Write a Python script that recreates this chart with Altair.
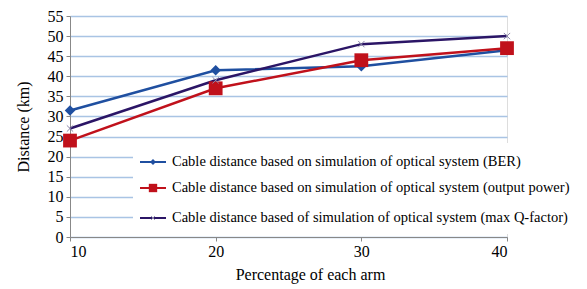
import altair as alt
import pandas as pd

pct = [10, 20, 30, 40]
ber = [31.5, 41.5, 42.5, 46.5]
power = [24.0, 37.0, 44.0, 47.0]
qfactor = [27.0, 39.0, 48.0, 50.0]

names = [
    "Cable distance based on simulation of optical system (BER)",
    "Cable distance based on simulation of optical system (output power)",
    "Cable distance based of simulation of optical system (max Q-factor)",
]
colors = ["#1f4fa0", "#c0111b", "#2b1566"]
y_ticks = list(range(0, 56, 5))

rows = []
for name, vals in zip(names, [ber, power, qfactor]):
    for x, y in zip(pct, vals):
        rows.append({"series": name, "pct": x, "dist": y})
df = pd.DataFrame(rows)

FONT = "Liberation Serif"
XPATH = "M-1,-1L1,1M-1,1L1,-1"

x_scale = alt.Scale(domain=[10, 40], nice=False)
y_scale = alt.Scale(domain=[0, 55], nice=False)

x_axis = alt.Axis(values=pct, title="Percentage of each arm", grid=False,
                  labelFontSize=16, titleFontSize=16, labelFont=FONT, titleFont=FONT,
                  titleFontWeight="normal", labelColor="black", titleColor="black",
                  domainColor="#888888", tickColor="#888888", tickSize=4,
                  labelPadding=2, titlePadding=7, titleX=240, format="d",
                  labelOverlap=False)
y_axis = alt.Axis(values=y_ticks, title="Distance (km)", grid=True,
                  gridColor="#a9c4e4", gridWidth=1.5,
                  labelFontSize=16, titleFontSize=16, labelFont=FONT, titleFont=FONT,
                  titleFontWeight="normal", labelColor="black", titleColor="black",
                  domainColor="#888888", tickColor="#888888", tickSize=4,
                  labelPadding=3, titlePadding=16, labelOverlap=False,
                  labelFlush=False)

x_enc = alt.X("pct:Q", scale=x_scale, axis=x_axis)
y_enc = alt.Y("dist:Q", scale=y_scale, axis=y_axis)
color_enc = alt.Color("series:N", scale=alt.Scale(domain=names, range=colors), legend=None)

base = alt.Chart(df)
lines = base.mark_line(strokeWidth=2.5).encode(x=x_enc, y=y_enc, color=color_enc)

pts_ber = base.transform_filter(alt.datum.series == names[0]).mark_point(
    shape="diamond", filled=True, size=110, opacity=1).encode(x=x_enc, y=y_enc, color=color_enc)
pts_pow = base.transform_filter(alt.datum.series == names[1]).mark_point(
    shape="square", filled=True, size=190, opacity=1).encode(x=x_enc, y=y_enc, color=color_enc)
pts_q = base.transform_filter(alt.datum.series == names[2]).mark_point(
    shape=XPATH, filled=False, size=40, strokeWidth=1, opacity=1,
    color="#8a86a8").encode(x=x_enc, y=y_enc)

# manual legend
box = alt.Chart(pd.DataFrame({"a": [0]})).mark_rect(color="white").encode(
    x=alt.value(63), x2=alt.value(440), y=alt.value(127), y2=alt.value(218))

legend_layers = [box]
row_y = [146, 172, 202]
shapes = ["diamond", "square", XPATH]
sizes = [35, 70, 14]
for i, name in enumerate(names):
    d = alt.Chart(pd.DataFrame({"series": [name]}))
    legend_layers.append(d.mark_rule(strokeWidth=2, color=colors[i]).encode(
        x=alt.value(70), x2=alt.value(96), y=alt.value(row_y[i])))
    if i == 2:
        legend_layers.append(d.mark_point(shape=XPATH, size=sizes[i], strokeWidth=1,
                                          color="#8a86a8", opacity=1).encode(
            x=alt.value(83), y=alt.value(row_y[i])))
    else:
        legend_layers.append(d.mark_point(shape=shapes[i], filled=True, size=sizes[i],
                                          color=colors[i], opacity=1).encode(
            x=alt.value(83), y=alt.value(row_y[i])))
    legend_layers.append(d.mark_text(align="left", baseline="middle", font=FONT, fontSize=14.5,
                                     color="black").encode(
        x=alt.value(102), y=alt.value(row_y[i]), text="series:N"))

chart = alt.layer(lines, *legend_layers, pts_ber, pts_pow, pts_q).properties(
    width=437, height=221,
    autosize=alt.AutoSizeParams(type="none"),
    padding={"left": 62, "top": 8, "right": 72, "bottom": 50},
).configure_view(stroke=None).configure(background="white", font=FONT).configure_axis(
    labelFont=FONT, titleFont=FONT).configure_text(font=FONT)

chart.save("out.html", embed_options={"renderer": "svg", "actions": False})
